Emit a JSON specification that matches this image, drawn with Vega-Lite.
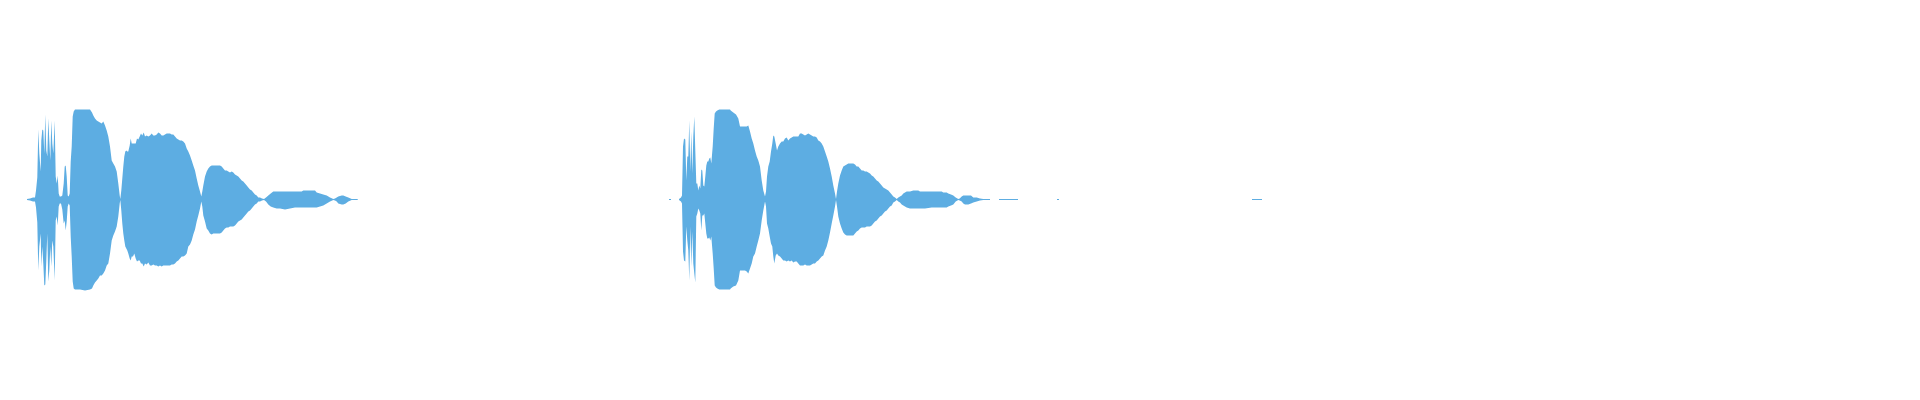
{
  "$schema": "https://vega.github.io/schema/vega-lite/v6.json",
  "width": 1920,
  "height": 400,
  "autosize": {"type": "fit", "contains": "padding"},
  "padding": 0,
  "background": "white",
  "config": {"view": {"stroke": null}},
  "data": {
    "values": [
      {"seg": "a", "t": 27, "hi": 0.5, "lo": -0.5},
      {"seg": "a", "t": 30, "hi": 1, "lo": -1},
      {"seg": "a", "t": 33, "hi": 2, "lo": -2},
      {"seg": "a", "t": 35, "hi": 2, "lo": -2},
      {"seg": "a", "t": 36, "hi": 9, "lo": -8},
      {"seg": "a", "t": 37.3, "hi": 22, "lo": -23},
      {"seg": "a", "t": 38.3, "hi": 70, "lo": -71},
      {"seg": "a", "t": 39.3, "hi": 46, "lo": -47},
      {"seg": "a", "t": 40.7, "hi": 28, "lo": -34},
      {"seg": "a", "t": 41.3, "hi": 59, "lo": -67},
      {"seg": "a", "t": 42.3, "hi": 70, "lo": -47},
      {"seg": "a", "t": 43.3, "hi": 69, "lo": -64},
      {"seg": "a", "t": 44.3, "hi": 46, "lo": -86},
      {"seg": "a", "t": 45.3, "hi": 85, "lo": -85},
      {"seg": "a", "t": 46.3, "hi": 49, "lo": -61},
      {"seg": "a", "t": 47.3, "hi": 43, "lo": -34},
      {"seg": "a", "t": 48.3, "hi": 81, "lo": -82},
      {"seg": "a", "t": 49.3, "hi": 59, "lo": -71},
      {"seg": "a", "t": 50.3, "hi": 39, "lo": -47},
      {"seg": "a", "t": 51.3, "hi": 79, "lo": -67},
      {"seg": "a", "t": 52.3, "hi": 56, "lo": -41},
      {"seg": "a", "t": 53.3, "hi": 46, "lo": -47},
      {"seg": "a", "t": 54.7, "hi": 79, "lo": -81},
      {"seg": "a", "t": 55.7, "hi": 23, "lo": -21},
      {"seg": "a", "t": 56.7, "hi": 16, "lo": -17},
      {"seg": "a", "t": 57.7, "hi": 24, "lo": -26},
      {"seg": "a", "t": 58.7, "hi": 6, "lo": -7},
      {"seg": "a", "t": 59.7, "hi": 3, "lo": -4},
      {"seg": "a", "t": 61, "hi": 3, "lo": -4},
      {"seg": "a", "t": 62.3, "hi": 4, "lo": -10},
      {"seg": "a", "t": 63.7, "hi": 16, "lo": -24},
      {"seg": "a", "t": 64.7, "hi": 33, "lo": -21},
      {"seg": "a", "t": 65.7, "hi": 34, "lo": -31},
      {"seg": "a", "t": 66.7, "hi": 23, "lo": -22},
      {"seg": "a", "t": 67.7, "hi": 4, "lo": -7},
      {"seg": "a", "t": 68.7, "hi": 3, "lo": -4},
      {"seg": "a", "t": 69.7, "hi": 6, "lo": -6},
      {"seg": "a", "t": 70.7, "hi": 38, "lo": -37},
      {"seg": "a", "t": 71.7, "hi": 53, "lo": -57},
      {"seg": "a", "t": 72.7, "hi": 83, "lo": -82},
      {"seg": "a", "t": 73.7, "hi": 88, "lo": -89},
      {"seg": "a", "t": 75, "hi": 90, "lo": -90},
      {"seg": "a", "t": 80, "hi": 90, "lo": -90},
      {"seg": "a", "t": 85, "hi": 90, "lo": -91},
      {"seg": "a", "t": 90, "hi": 90, "lo": -90},
      {"seg": "a", "t": 92, "hi": 87, "lo": -89},
      {"seg": "a", "t": 93.3, "hi": 84, "lo": -86},
      {"seg": "a", "t": 95, "hi": 81, "lo": -83},
      {"seg": "a", "t": 96.7, "hi": 79, "lo": -81},
      {"seg": "a", "t": 98.3, "hi": 78, "lo": -79},
      {"seg": "a", "t": 100, "hi": 77, "lo": -76},
      {"seg": "a", "t": 101.7, "hi": 76, "lo": -76},
      {"seg": "a", "t": 103.3, "hi": 78, "lo": -74},
      {"seg": "a", "t": 105, "hi": 74, "lo": -71},
      {"seg": "a", "t": 106.7, "hi": 69, "lo": -66},
      {"seg": "a", "t": 108.3, "hi": 63, "lo": -64},
      {"seg": "a", "t": 110, "hi": 53, "lo": -54},
      {"seg": "a", "t": 111.7, "hi": 39, "lo": -41},
      {"seg": "a", "t": 113.3, "hi": 36, "lo": -36},
      {"seg": "a", "t": 115, "hi": 33, "lo": -32},
      {"seg": "a", "t": 116.7, "hi": 28, "lo": -27},
      {"seg": "a", "t": 118.3, "hi": 16, "lo": -17},
      {"seg": "a", "t": 119.7, "hi": 4, "lo": -4},
      {"seg": "a", "t": 120.3, "hi": 0.5, "lo": -0.5},
      {"seg": "a", "t": 121.3, "hi": 9, "lo": -11},
      {"seg": "a", "t": 122.3, "hi": 21, "lo": -24},
      {"seg": "a", "t": 123.3, "hi": 33, "lo": -34},
      {"seg": "a", "t": 124.3, "hi": 43, "lo": -41},
      {"seg": "a", "t": 125.3, "hi": 48, "lo": -47},
      {"seg": "a", "t": 126.3, "hi": 49, "lo": -49},
      {"seg": "a", "t": 127.3, "hi": 48, "lo": -51},
      {"seg": "a", "t": 128.3, "hi": 48, "lo": -54},
      {"seg": "a", "t": 129.7, "hi": 54, "lo": -59},
      {"seg": "a", "t": 130.7, "hi": 61, "lo": -61},
      {"seg": "a", "t": 131.7, "hi": 56, "lo": -57},
      {"seg": "a", "t": 133, "hi": 56, "lo": -57},
      {"seg": "a", "t": 134.3, "hi": 56, "lo": -54},
      {"seg": "a", "t": 135.7, "hi": 56, "lo": -59},
      {"seg": "a", "t": 137, "hi": 61, "lo": -62},
      {"seg": "a", "t": 138.3, "hi": 60, "lo": -61},
      {"seg": "a", "t": 139.7, "hi": 63, "lo": -61},
      {"seg": "a", "t": 141, "hi": 66, "lo": -64},
      {"seg": "a", "t": 142.3, "hi": 64, "lo": -64},
      {"seg": "a", "t": 143.7, "hi": 67, "lo": -67},
      {"seg": "a", "t": 145, "hi": 63, "lo": -64},
      {"seg": "a", "t": 146.7, "hi": 64, "lo": -65},
      {"seg": "a", "t": 148.3, "hi": 63, "lo": -63},
      {"seg": "a", "t": 150, "hi": 64, "lo": -66},
      {"seg": "a", "t": 151.7, "hi": 66, "lo": -66},
      {"seg": "a", "t": 153.3, "hi": 64, "lo": -65},
      {"seg": "a", "t": 155, "hi": 64, "lo": -66},
      {"seg": "a", "t": 156.7, "hi": 65, "lo": -66},
      {"seg": "a", "t": 158.3, "hi": 67, "lo": -67},
      {"seg": "a", "t": 160, "hi": 66, "lo": -66},
      {"seg": "a", "t": 161.7, "hi": 64, "lo": -67},
      {"seg": "a", "t": 163.3, "hi": 64, "lo": -66},
      {"seg": "a", "t": 165, "hi": 65, "lo": -66},
      {"seg": "a", "t": 166.7, "hi": 66, "lo": -66},
      {"seg": "a", "t": 168.3, "hi": 66, "lo": -66},
      {"seg": "a", "t": 170, "hi": 66, "lo": -66},
      {"seg": "a", "t": 171.7, "hi": 65, "lo": -65},
      {"seg": "a", "t": 173.3, "hi": 65, "lo": -65},
      {"seg": "a", "t": 175, "hi": 63, "lo": -64},
      {"seg": "a", "t": 176.7, "hi": 61, "lo": -62},
      {"seg": "a", "t": 178.3, "hi": 60, "lo": -61},
      {"seg": "a", "t": 180, "hi": 59, "lo": -59},
      {"seg": "a", "t": 181.7, "hi": 59, "lo": -57},
      {"seg": "a", "t": 183.3, "hi": 58, "lo": -57},
      {"seg": "a", "t": 185, "hi": 56, "lo": -56},
      {"seg": "a", "t": 186.7, "hi": 51, "lo": -54},
      {"seg": "a", "t": 188.3, "hi": 48, "lo": -47},
      {"seg": "a", "t": 190, "hi": 44, "lo": -45},
      {"seg": "a", "t": 191.7, "hi": 39, "lo": -41},
      {"seg": "a", "t": 193.3, "hi": 34, "lo": -35},
      {"seg": "a", "t": 195, "hi": 29, "lo": -30},
      {"seg": "a", "t": 196.7, "hi": 21, "lo": -22},
      {"seg": "a", "t": 198.3, "hi": 14, "lo": -16},
      {"seg": "a", "t": 200, "hi": 8, "lo": -9},
      {"seg": "a", "t": 201.3, "hi": 3, "lo": -2},
      {"seg": "a", "t": 202.3, "hi": 8, "lo": -7},
      {"seg": "a", "t": 203.3, "hi": 14, "lo": -16},
      {"seg": "a", "t": 205, "hi": 23, "lo": -22},
      {"seg": "a", "t": 206.7, "hi": 28, "lo": -29},
      {"seg": "a", "t": 208.3, "hi": 31, "lo": -31},
      {"seg": "a", "t": 210, "hi": 33, "lo": -34},
      {"seg": "a", "t": 211.7, "hi": 34, "lo": -35},
      {"seg": "a", "t": 213.3, "hi": 34, "lo": -34},
      {"seg": "a", "t": 216.7, "hi": 34, "lo": -34},
      {"seg": "a", "t": 220, "hi": 34, "lo": -34},
      {"seg": "a", "t": 221.7, "hi": 33, "lo": -33},
      {"seg": "a", "t": 223.3, "hi": 31, "lo": -31},
      {"seg": "a", "t": 225, "hi": 29, "lo": -29},
      {"seg": "a", "t": 226.7, "hi": 29, "lo": -28},
      {"seg": "a", "t": 228.3, "hi": 28, "lo": -28},
      {"seg": "a", "t": 230, "hi": 27, "lo": -27},
      {"seg": "a", "t": 231.7, "hi": 28, "lo": -27},
      {"seg": "a", "t": 233.3, "hi": 27, "lo": -27},
      {"seg": "a", "t": 235, "hi": 25, "lo": -26},
      {"seg": "a", "t": 236.7, "hi": 24, "lo": -24},
      {"seg": "a", "t": 238.3, "hi": 23, "lo": -22},
      {"seg": "a", "t": 240, "hi": 21, "lo": -21},
      {"seg": "a", "t": 241.7, "hi": 19, "lo": -20},
      {"seg": "a", "t": 243.3, "hi": 18, "lo": -18},
      {"seg": "a", "t": 245, "hi": 16, "lo": -16},
      {"seg": "a", "t": 246.7, "hi": 14, "lo": -14},
      {"seg": "a", "t": 248.3, "hi": 12, "lo": -12},
      {"seg": "a", "t": 250, "hi": 10, "lo": -11},
      {"seg": "a", "t": 251.7, "hi": 9, "lo": -9},
      {"seg": "a", "t": 253.3, "hi": 7, "lo": -7},
      {"seg": "a", "t": 255, "hi": 5, "lo": -5},
      {"seg": "a", "t": 256.7, "hi": 4, "lo": -4},
      {"seg": "a", "t": 258.3, "hi": 2, "lo": -2},
      {"seg": "a", "t": 260, "hi": 2, "lo": -2},
      {"seg": "a", "t": 262, "hi": 1, "lo": -1},
      {"seg": "a", "t": 264, "hi": 0.5, "lo": -0.5},
      {"seg": "a", "t": 266, "hi": 2, "lo": -2},
      {"seg": "a", "t": 268.3, "hi": 4, "lo": -5},
      {"seg": "a", "t": 270.7, "hi": 6, "lo": -7},
      {"seg": "a", "t": 273.3, "hi": 8, "lo": -8},
      {"seg": "a", "t": 276.7, "hi": 8, "lo": -9},
      {"seg": "a", "t": 280, "hi": 8, "lo": -9},
      {"seg": "a", "t": 285, "hi": 8, "lo": -10},
      {"seg": "a", "t": 290, "hi": 8, "lo": -9},
      {"seg": "a", "t": 295, "hi": 8, "lo": -8},
      {"seg": "a", "t": 301.7, "hi": 8, "lo": -8},
      {"seg": "a", "t": 303.3, "hi": 9, "lo": -8},
      {"seg": "a", "t": 315, "hi": 9, "lo": -8},
      {"seg": "a", "t": 316.7, "hi": 7, "lo": -8},
      {"seg": "a", "t": 320, "hi": 6, "lo": -7},
      {"seg": "a", "t": 323.3, "hi": 5, "lo": -6},
      {"seg": "a", "t": 326.7, "hi": 4, "lo": -4},
      {"seg": "a", "t": 330, "hi": 2, "lo": -2},
      {"seg": "a", "t": 333.3, "hi": 0.5, "lo": -0.5},
      {"seg": "a", "t": 335, "hi": 1, "lo": -1},
      {"seg": "a", "t": 336.7, "hi": 2, "lo": -2},
      {"seg": "a", "t": 338.3, "hi": 3, "lo": -4},
      {"seg": "a", "t": 341.7, "hi": 4, "lo": -5},
      {"seg": "a", "t": 343.3, "hi": 4, "lo": -5},
      {"seg": "a", "t": 345.7, "hi": 3, "lo": -4},
      {"seg": "a", "t": 348.3, "hi": 2, "lo": -2},
      {"seg": "a", "t": 351.7, "hi": 0.5, "lo": -0.5},
      {"seg": "a", "t": 357.7, "hi": 0.5, "lo": -0.5},

      {"seg": "b0", "t": 669, "hi": 0.5, "lo": -0.5},
      {"seg": "b0", "t": 671, "hi": 0.5, "lo": -0.5},

      {"seg": "b", "t": 679, "hi": 0.5, "lo": -0.5},
      {"seg": "b", "t": 681, "hi": 2, "lo": -2},
      {"seg": "b", "t": 682, "hi": 4, "lo": -4},
      {"seg": "b", "t": 683, "hi": 53, "lo": -52},
      {"seg": "b", "t": 684, "hi": 61, "lo": -61},
      {"seg": "b", "t": 685.3, "hi": 60, "lo": -62},
      {"seg": "b", "t": 686.3, "hi": 19, "lo": -27},
      {"seg": "b", "t": 687.3, "hi": 43, "lo": -41},
      {"seg": "b", "t": 688.3, "hi": 43, "lo": -51},
      {"seg": "b", "t": 689.3, "hi": 79, "lo": -81},
      {"seg": "b", "t": 690.3, "hi": 28, "lo": -27},
      {"seg": "b", "t": 691.3, "hi": 68, "lo": -67},
      {"seg": "b", "t": 692.3, "hi": 26, "lo": -32},
      {"seg": "b", "t": 693.3, "hi": 63, "lo": -64},
      {"seg": "b", "t": 694.3, "hi": 83, "lo": -74},
      {"seg": "b", "t": 695.3, "hi": 49, "lo": -83},
      {"seg": "b", "t": 696.3, "hi": 16, "lo": -17},
      {"seg": "b", "t": 697.3, "hi": 16, "lo": -14},
      {"seg": "b", "t": 698.3, "hi": 9, "lo": -9},
      {"seg": "b", "t": 699.3, "hi": 14, "lo": -11},
      {"seg": "b", "t": 700.3, "hi": 11, "lo": -14},
      {"seg": "b", "t": 701.3, "hi": 30, "lo": -31},
      {"seg": "b", "t": 702.3, "hi": 29, "lo": -16},
      {"seg": "b", "t": 703.3, "hi": 14, "lo": -16},
      {"seg": "b", "t": 704.3, "hi": 13, "lo": -14},
      {"seg": "b", "t": 705.3, "hi": 23, "lo": -24},
      {"seg": "b", "t": 706.3, "hi": 34, "lo": -34},
      {"seg": "b", "t": 707.3, "hi": 38, "lo": -39},
      {"seg": "b", "t": 708.3, "hi": 38, "lo": -39},
      {"seg": "b", "t": 709.3, "hi": 41, "lo": -38},
      {"seg": "b", "t": 710.3, "hi": 42, "lo": -41},
      {"seg": "b", "t": 711.3, "hi": 36, "lo": -37},
      {"seg": "b", "t": 712.7, "hi": 53, "lo": -54},
      {"seg": "b", "t": 713.7, "hi": 71, "lo": -69},
      {"seg": "b", "t": 714.7, "hi": 86, "lo": -86},
      {"seg": "b", "t": 716, "hi": 88, "lo": -88},
      {"seg": "b", "t": 717.3, "hi": 89, "lo": -89},
      {"seg": "b", "t": 719.3, "hi": 90, "lo": -90},
      {"seg": "b", "t": 725, "hi": 90, "lo": -90},
      {"seg": "b", "t": 730, "hi": 90, "lo": -90},
      {"seg": "b", "t": 730.7, "hi": 89, "lo": -89},
      {"seg": "b", "t": 733.3, "hi": 87, "lo": -87},
      {"seg": "b", "t": 736, "hi": 85, "lo": -86},
      {"seg": "b", "t": 738.3, "hi": 81, "lo": -81},
      {"seg": "b", "t": 740, "hi": 73, "lo": -71},
      {"seg": "b", "t": 745, "hi": 73, "lo": -71},
      {"seg": "b", "t": 746.7, "hi": 73, "lo": -72},
      {"seg": "b", "t": 748.3, "hi": 74, "lo": -74},
      {"seg": "b", "t": 750, "hi": 68, "lo": -69},
      {"seg": "b", "t": 751.7, "hi": 61, "lo": -64},
      {"seg": "b", "t": 753.3, "hi": 56, "lo": -57},
      {"seg": "b", "t": 755, "hi": 49, "lo": -54},
      {"seg": "b", "t": 756.7, "hi": 43, "lo": -47},
      {"seg": "b", "t": 758.3, "hi": 39, "lo": -41},
      {"seg": "b", "t": 760, "hi": 33, "lo": -34},
      {"seg": "b", "t": 761.7, "hi": 19, "lo": -21},
      {"seg": "b", "t": 763.3, "hi": 9, "lo": -11},
      {"seg": "b", "t": 765, "hi": 3, "lo": -2},
      {"seg": "b", "t": 766, "hi": 8, "lo": -7},
      {"seg": "b", "t": 767, "hi": 23, "lo": -24},
      {"seg": "b", "t": 768.3, "hi": 33, "lo": -29},
      {"seg": "b", "t": 769.7, "hi": 38, "lo": -37},
      {"seg": "b", "t": 771, "hi": 48, "lo": -44},
      {"seg": "b", "t": 772.3, "hi": 56, "lo": -47},
      {"seg": "b", "t": 773.3, "hi": 64, "lo": -57},
      {"seg": "b", "t": 774.3, "hi": 63, "lo": -64},
      {"seg": "b", "t": 775.7, "hi": 56, "lo": -56},
      {"seg": "b", "t": 777, "hi": 49, "lo": -54},
      {"seg": "b", "t": 778.3, "hi": 53, "lo": -56},
      {"seg": "b", "t": 780, "hi": 56, "lo": -57},
      {"seg": "b", "t": 781.7, "hi": 58, "lo": -59},
      {"seg": "b", "t": 783.3, "hi": 58, "lo": -61},
      {"seg": "b", "t": 785, "hi": 61, "lo": -61},
      {"seg": "b", "t": 786.7, "hi": 62, "lo": -62},
      {"seg": "b", "t": 788.3, "hi": 59, "lo": -61},
      {"seg": "b", "t": 790, "hi": 61, "lo": -62},
      {"seg": "b", "t": 791.7, "hi": 62, "lo": -61},
      {"seg": "b", "t": 793.3, "hi": 63, "lo": -63},
      {"seg": "b", "t": 795, "hi": 63, "lo": -62},
      {"seg": "b", "t": 796.7, "hi": 63, "lo": -62},
      {"seg": "b", "t": 798.3, "hi": 63, "lo": -64},
      {"seg": "b", "t": 800, "hi": 66, "lo": -66},
      {"seg": "b", "t": 801.7, "hi": 66, "lo": -66},
      {"seg": "b", "t": 803.3, "hi": 65, "lo": -66},
      {"seg": "b", "t": 805, "hi": 64, "lo": -65},
      {"seg": "b", "t": 806.7, "hi": 65, "lo": -66},
      {"seg": "b", "t": 808.3, "hi": 66, "lo": -66},
      {"seg": "b", "t": 810, "hi": 65, "lo": -66},
      {"seg": "b", "t": 811.7, "hi": 64, "lo": -65},
      {"seg": "b", "t": 813.3, "hi": 63, "lo": -64},
      {"seg": "b", "t": 815, "hi": 63, "lo": -64},
      {"seg": "b", "t": 816.7, "hi": 62, "lo": -62},
      {"seg": "b", "t": 818.3, "hi": 59, "lo": -61},
      {"seg": "b", "t": 820, "hi": 58, "lo": -59},
      {"seg": "b", "t": 821.7, "hi": 56, "lo": -57},
      {"seg": "b", "t": 823.3, "hi": 53, "lo": -56},
      {"seg": "b", "t": 825, "hi": 48, "lo": -51},
      {"seg": "b", "t": 826.7, "hi": 43, "lo": -47},
      {"seg": "b", "t": 828.3, "hi": 38, "lo": -41},
      {"seg": "b", "t": 830, "hi": 31, "lo": -33},
      {"seg": "b", "t": 831.7, "hi": 23, "lo": -24},
      {"seg": "b", "t": 833.3, "hi": 14, "lo": -16},
      {"seg": "b", "t": 835, "hi": 6, "lo": -7},
      {"seg": "b", "t": 836, "hi": 0.5, "lo": -0.5},
      {"seg": "b", "t": 837, "hi": 8, "lo": -7},
      {"seg": "b", "t": 838.3, "hi": 16, "lo": -17},
      {"seg": "b", "t": 840, "hi": 24, "lo": -24},
      {"seg": "b", "t": 841.7, "hi": 29, "lo": -29},
      {"seg": "b", "t": 843.3, "hi": 33, "lo": -33},
      {"seg": "b", "t": 845, "hi": 34, "lo": -35},
      {"seg": "b", "t": 846.7, "hi": 35, "lo": -36},
      {"seg": "b", "t": 848.3, "hi": 36, "lo": -36},
      {"seg": "b", "t": 853.3, "hi": 36, "lo": -36},
      {"seg": "b", "t": 855, "hi": 35, "lo": -34},
      {"seg": "b", "t": 856.7, "hi": 33, "lo": -32},
      {"seg": "b", "t": 858.3, "hi": 33, "lo": -31},
      {"seg": "b", "t": 860, "hi": 31, "lo": -29},
      {"seg": "b", "t": 861.7, "hi": 29, "lo": -28},
      {"seg": "b", "t": 863.3, "hi": 29, "lo": -28},
      {"seg": "b", "t": 865, "hi": 28, "lo": -28},
      {"seg": "b", "t": 866.7, "hi": 28, "lo": -27},
      {"seg": "b", "t": 868.3, "hi": 27, "lo": -27},
      {"seg": "b", "t": 870, "hi": 26, "lo": -27},
      {"seg": "b", "t": 871.7, "hi": 24, "lo": -26},
      {"seg": "b", "t": 873.3, "hi": 23, "lo": -24},
      {"seg": "b", "t": 875, "hi": 21, "lo": -22},
      {"seg": "b", "t": 876.7, "hi": 19, "lo": -21},
      {"seg": "b", "t": 878.3, "hi": 18, "lo": -19},
      {"seg": "b", "t": 880, "hi": 16, "lo": -17},
      {"seg": "b", "t": 881.7, "hi": 14, "lo": -16},
      {"seg": "b", "t": 883.3, "hi": 12, "lo": -14},
      {"seg": "b", "t": 885, "hi": 11, "lo": -12},
      {"seg": "b", "t": 886.7, "hi": 10, "lo": -11},
      {"seg": "b", "t": 888.3, "hi": 9, "lo": -9},
      {"seg": "b", "t": 890, "hi": 7, "lo": -7},
      {"seg": "b", "t": 891.7, "hi": 5, "lo": -6},
      {"seg": "b", "t": 893.3, "hi": 3, "lo": -3},
      {"seg": "b", "t": 895, "hi": 2, "lo": -2},
      {"seg": "b", "t": 896.7, "hi": 0.5, "lo": -0.5},
      {"seg": "b", "t": 898.3, "hi": 2, "lo": -2},
      {"seg": "b", "t": 900, "hi": 3, "lo": -3},
      {"seg": "b", "t": 901.7, "hi": 4, "lo": -5},
      {"seg": "b", "t": 903.3, "hi": 6, "lo": -6},
      {"seg": "b", "t": 905, "hi": 7, "lo": -7},
      {"seg": "b", "t": 906.7, "hi": 8, "lo": -8},
      {"seg": "b", "t": 910, "hi": 8, "lo": -9},
      {"seg": "b", "t": 913.3, "hi": 9, "lo": -9},
      {"seg": "b", "t": 918.3, "hi": 9, "lo": -9},
      {"seg": "b", "t": 920, "hi": 8, "lo": -9},
      {"seg": "b", "t": 925, "hi": 8, "lo": -9},
      {"seg": "b", "t": 931.7, "hi": 8, "lo": -8},
      {"seg": "b", "t": 936.7, "hi": 8, "lo": -8},
      {"seg": "b", "t": 941.7, "hi": 8, "lo": -8},
      {"seg": "b", "t": 943.3, "hi": 7, "lo": -8},
      {"seg": "b", "t": 946.7, "hi": 7, "lo": -8},
      {"seg": "b", "t": 948.3, "hi": 6, "lo": -7},
      {"seg": "b", "t": 951, "hi": 5, "lo": -6},
      {"seg": "b", "t": 953.3, "hi": 4, "lo": -5},
      {"seg": "b", "t": 955.7, "hi": 2, "lo": -2},
      {"seg": "b", "t": 958.3, "hi": 0.5, "lo": -0.5},
      {"seg": "b", "t": 959.7, "hi": 1, "lo": -1},
      {"seg": "b", "t": 961.7, "hi": 3, "lo": -2},
      {"seg": "b", "t": 963.3, "hi": 4, "lo": -4},
      {"seg": "b", "t": 965, "hi": 4, "lo": -5},
      {"seg": "b", "t": 968.3, "hi": 4, "lo": -5},
      {"seg": "b", "t": 971, "hi": 4, "lo": -4},
      {"seg": "b", "t": 973.3, "hi": 2, "lo": -3},
      {"seg": "b", "t": 976.7, "hi": 2, "lo": -2},
      {"seg": "b", "t": 980, "hi": 1, "lo": -1},
      {"seg": "b", "t": 983.3, "hi": 0.5, "lo": -0.5},
      {"seg": "b", "t": 990, "hi": 0.5, "lo": -0.5},

      {"seg": "c", "t": 999, "hi": 0.5, "lo": -0.5},
      {"seg": "c", "t": 1018, "hi": 0.5, "lo": -0.5},

      {"seg": "d", "t": 1057, "hi": 0.5, "lo": -0.5},
      {"seg": "d", "t": 1059, "hi": 0.5, "lo": -0.5},

      {"seg": "e", "t": 1252, "hi": 0.5, "lo": -0.5},
      {"seg": "e", "t": 1262, "hi": 0.5, "lo": -0.5}
    ]
  },
  "mark": {"type": "area", "color": "#5DADE2", "opacity": 1},
  "encoding": {
    "x": {
      "field": "t",
      "type": "quantitative",
      "scale": {"domain": [0, 1920], "nice": false, "zero": false},
      "axis": null
    },
    "y": {
      "field": "hi",
      "type": "quantitative",
      "scale": {"domain": [-200.5, 199.5], "nice": false, "zero": false},
      "axis": null
    },
    "y2": {"field": "lo"},
    "detail": {"field": "seg", "type": "nominal"}
  }
}
